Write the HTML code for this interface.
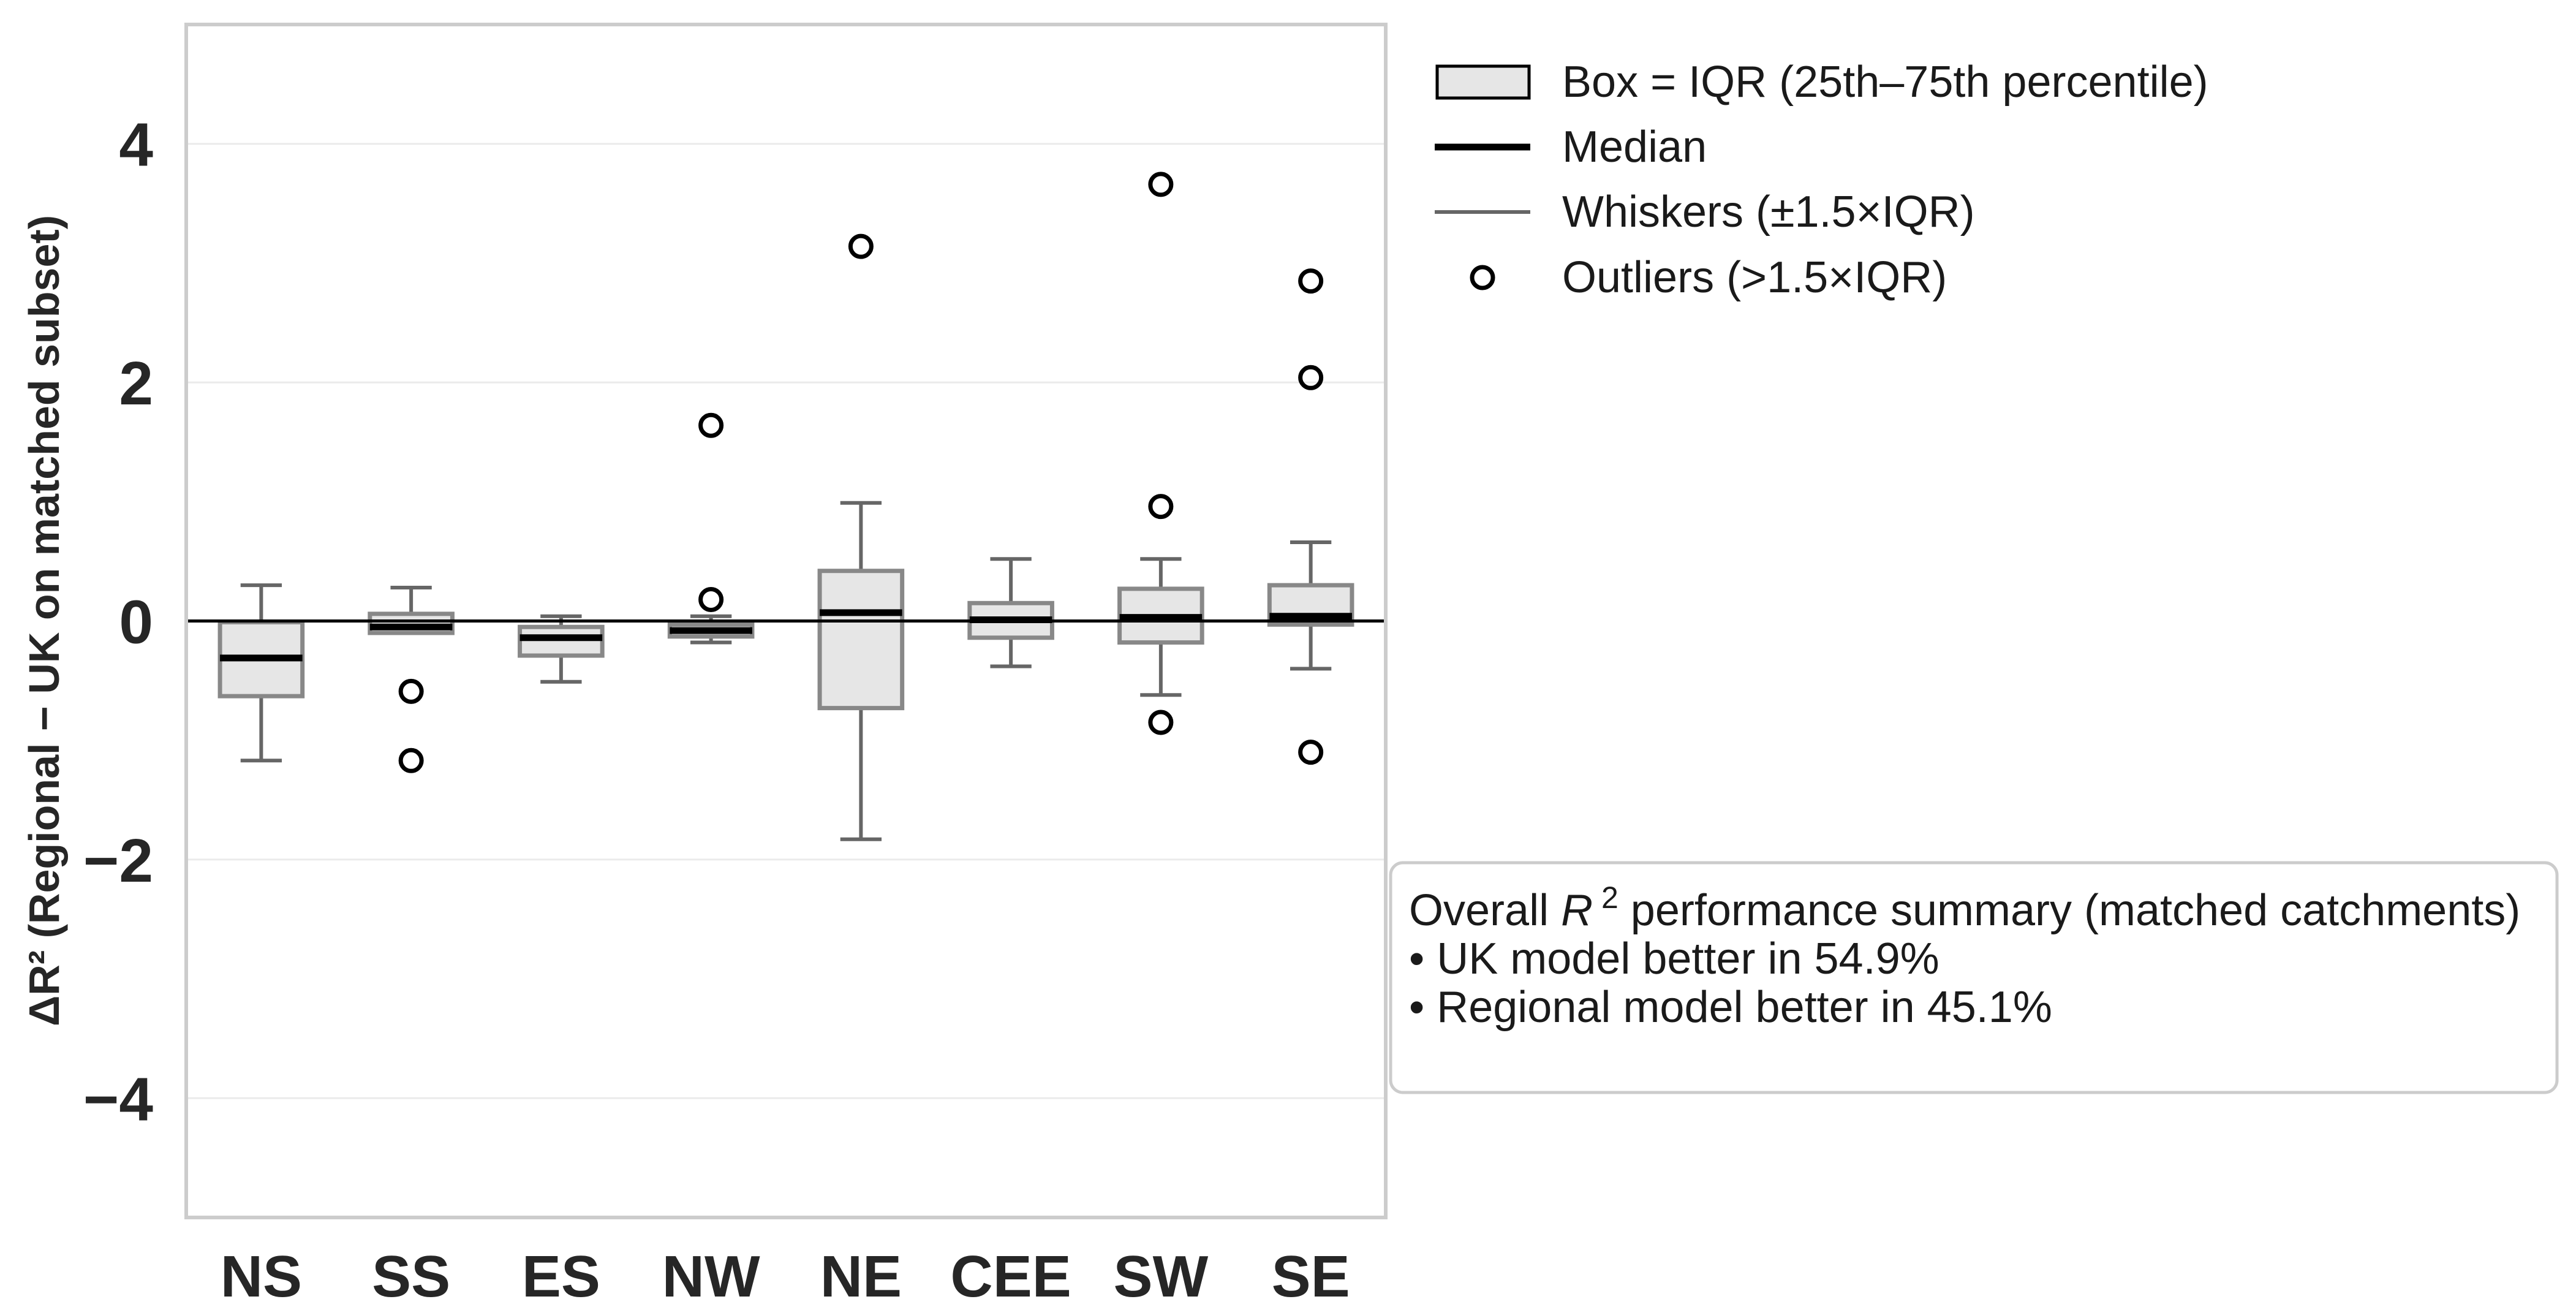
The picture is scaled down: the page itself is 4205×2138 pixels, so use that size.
<!DOCTYPE html>
<html><head><meta charset="utf-8"><style>
html,body{margin:0;padding:0;background:#fff;}
svg{display:block;font-family:"Liberation Sans",Arial,sans-serif;}
</style></head><body>
<svg id="chart" width="4205" height="2138" viewBox="0 0 4205 2138" xmlns="http://www.w3.org/2000/svg">
<g id="grid"></g>
<g id="plot"></g>
<rect x="304" y="40" width="1958" height="1947" fill="none" stroke="#cccccc" stroke-width="6"/>
<g id="yticks"></g>
<g id="xticks"></g>
<text transform="translate(96,1013) rotate(-90)" text-anchor="middle" font-size="70" font-weight="bold" fill="#262626">ΔR² (Regional − UK on matched subset)</text>
<g>
<g>
<rect x="2346" y="108" width="150" height="52" fill="#e6e6e6" stroke="#000" stroke-width="5"/>
<text x="2550" y="158" font-size="72" fill="#1a1a1a">Box = IQR (25th–75th percentile)</text></g>
<g>
<line x1="2342" y1="240" x2="2498" y2="240" stroke="#000" stroke-width="11"/>
<text x="2550" y="264" font-size="72" fill="#1a1a1a">Median</text></g>
<g>
<line x1="2342" y1="346" x2="2498" y2="346" stroke="#666" stroke-width="6"/>
<text x="2550" y="370" font-size="72" fill="#1a1a1a">Whiskers (±1.5×IQR)</text></g>
<g>
<circle cx="2420" cy="453" r="17" fill="none" stroke="#000" stroke-width="7"/>
<text x="2550" y="477" font-size="72" fill="#1a1a1a">Outliers (&gt;1.5×IQR)</text></g>
</g>
<g>
<rect x="2270" y="1408" width="1904" height="375" rx="20" fill="#fff" stroke="#cccccc" stroke-width="5"/>
<text x="2300" y="1510" font-size="72" fill="#1a1a1a">Overall <tspan font-style="italic">R</tspan><tspan dy="-28" font-size="50"> 2</tspan><tspan dy="28"> performance summary (matched catchments)</tspan></text>
<text x="2300" y="1589" font-size="72" fill="#1a1a1a">• UK model better in 54.9%</text>
<text x="2300" y="1668" font-size="72" fill="#1a1a1a">• Regional model better in 45.1%</text>
</g>
</svg>
<script>
const categories = ["NS","SS","ES","NW","NE","CEE","SW","SE"];
const whiskerLow = [-1.17,-0.10,-0.51,-0.18,-1.83,-0.38,-0.62,-0.40];
const q1 = [-0.63,-0.10,-0.29,-0.13,-0.73,-0.14,-0.18,-0.03];
const median = [-0.31,-0.05,-0.14,-0.08,0.07,0.01,0.03,0.04];
const q3 = [-0.01,0.06,-0.05,-0.03,0.42,0.15,0.27,0.30];
const whiskerHigh = [0.30,0.28,0.04,0.04,0.99,0.52,0.52,0.66];
const outliers = [[],[-0.59,-1.17],[],[0.18,1.64],[3.14],[],[3.66,0.96,-0.85],[2.85,2.04,-1.10]];
const yTicks = [-4,-2,0,2,4];
const yTickLabels = ["−4","−2","0","2","4"];

const NS="http://www.w3.org/2000/svg";
const X0=304, X1=2262, Y0=40, Y1=1987, yMin=-5, yMax=5;
const band=(X1-X0)/categories.length;
const xS=i=>X0+band*(i+0.5);
const yS=v=>Y1-(v-yMin)/(yMax-yMin)*(Y1-Y0);
function mk(tag,attrs,parent){const e=document.createElementNS(NS,tag);for(const k in attrs)e.setAttribute(k,attrs[k]);parent.appendChild(e);return e;}
const grid=document.getElementById('grid'), plot=document.getElementById('plot'), yt=document.getElementById('yticks'), xt=document.getElementById('xticks');
yTicks.forEach((t,i)=>{
  const g=mk('line',{x1:X0,x2:X1,y1:yS(t),y2:yS(t),stroke:'#ebebeb','stroke-width':3},grid);
  
  
  const l=mk('text',{x:250,y:yS(t)+36,'text-anchor':'end','font-size':100,'font-weight':'bold',fill:'#262626'},yt);
  l.textContent=yTickLabels[i];
  
  
});
const bw=band*0.55;
categories.forEach((c,i)=>{
  const cx=xS(i);
  const g=mk('g',{},plot);
  
  
  const cap=bw/2;
  mk('line',{x1:cx,x2:cx,y1:yS(q3[i]),y2:yS(whiskerHigh[i]),stroke:'#666','stroke-width':6},g);
  mk('line',{x1:cx,x2:cx,y1:yS(q1[i]),y2:yS(whiskerLow[i]),stroke:'#666','stroke-width':6},g);
  mk('line',{x1:cx-cap/2,x2:cx+cap/2,y1:yS(whiskerHigh[i]),y2:yS(whiskerHigh[i]),stroke:'#666','stroke-width':6},g);
  mk('line',{x1:cx-cap/2,x2:cx+cap/2,y1:yS(whiskerLow[i]),y2:yS(whiskerLow[i]),stroke:'#666','stroke-width':6},g);
  mk('rect',{x:cx-bw/2,y:yS(q3[i]),width:bw,height:Math.max(yS(q1[i])-yS(q3[i]),1),fill:'#e6e6e6',stroke:'#888','stroke-width':7},g);
  mk('line',{x1:cx-bw/2,x2:cx+bw/2,y1:yS(median[i]),y2:yS(median[i]),stroke:'#000','stroke-width':11},g);
  outliers[i].forEach(v=>{
    const o=mk('circle',{cx:cx,cy:yS(v),r:17,fill:'none',stroke:'#000','stroke-width':7},g);
    
    
  });
  const l=mk('text',{x:cx,y:2116,'text-anchor':'middle','font-size':96,'font-weight':'bold',fill:'#262626'},xt);
  l.textContent=c;
  
  
});
const z=mk('line',{x1:X0,x2:X1,y1:yS(0),y2:yS(0),stroke:'#000','stroke-width':5},plot);


</script>
</body></html>
